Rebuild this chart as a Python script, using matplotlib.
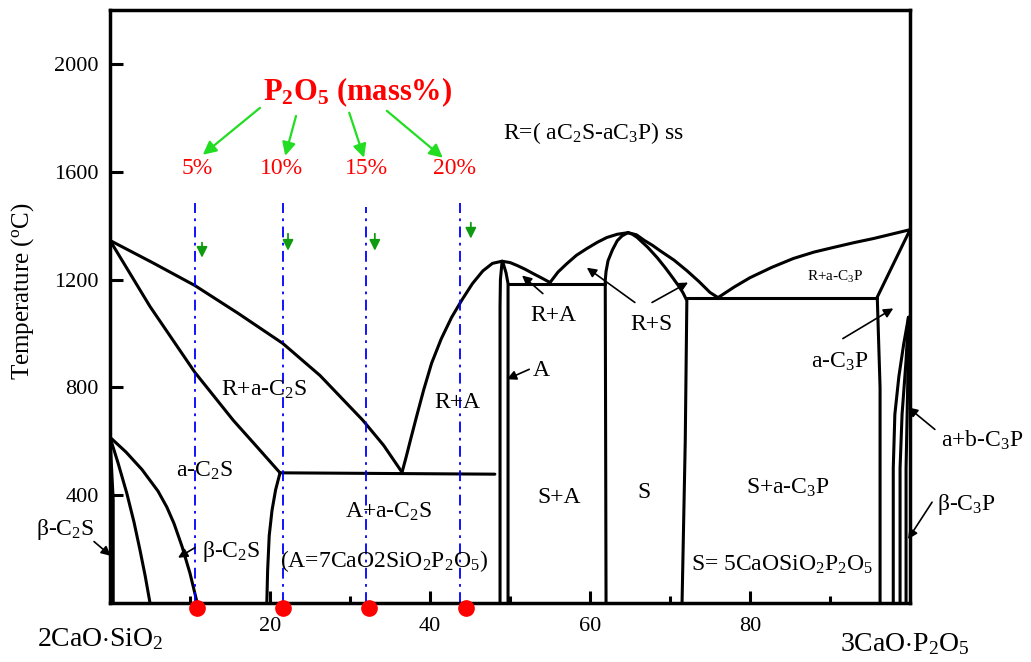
import numpy as np
import matplotlib.pyplot as plt

plt.rcParams['font.family'] = 'Liberation Serif'
plt.rcParams['mathtext.fontset'] = 'custom'
plt.rcParams['mathtext.rm'] = 'Liberation Serif'
plt.rcParams['mathtext.it'] = 'Liberation Serif:italic'
plt.rcParams['mathtext.bf'] = 'Liberation Serif:bold'

# phase boundaries (x = composition, T = temperature in C)
liq_c2s_x = [0, 5.3, 10.6, 16.0, 21.6, 26.25, 31.6, 34.2, 36.5]
liq_c2s_t = [1345, 1263, 1178, 1075, 963, 844, 678, 585, 485]

sol_c2s_x = [0, 5.0, 10.6, 15.4, 18.5, 21.25]
sol_c2s_t = [1345, 1100, 856, 678, 575, 483]

a_c2s_x = [21.25, 20.7, 20.25, 19.9, 19.7, 19.6]
a_c2s_t = [483, 420, 344, 250, 120, 0]

eut1_x = [21.25, 48.1]
eut1_t = [483, 478]

beta_out_x = [0, 2, 4, 6, 7.1, 8, 9, 10, 10.9]
beta_out_t = [615, 560, 495, 415, 356, 295, 210, 110, 0]
beta_mid_x = [0, 1.0, 2.1, 3.0, 3.75, 4.4, 5.0]
beta_mid_t = [615, 520, 407, 300, 196, 100, 0]
beta_in_x = [0, 0.4, 0.4]
beta_in_t = [615, 381, 0]

liq_a_left_x = [36.5, 37.0, 37.6, 38.3, 39.2, 40.2, 41.4, 42.7, 44.0, 45.3,
                46.6, 47.8, 49.0]
liq_a_left_t = [485, 540, 610, 690, 790, 890, 980, 1060, 1125, 1185,
                1232, 1260, 1268]
liq_a_right_x = [49.0, 50.0, 50.9, 51.9, 52.9, 54.0, 55.0]
liq_a_right_t = [1268, 1263, 1252, 1238, 1222, 1205, 1189]

a_left_x = [49.0, 48.8, 48.75, 48.75]
a_left_t = [1265, 1200, 1100, 0]
a_right_x = [49.1, 49.5, 49.75, 49.75]
a_right_t = [1265, 1225, 1185, 0]

ra_box_x = [49.75, 61.9]
ra_box_t = [1185, 1185]

liq_s_left_x = [55.0, 56.0, 57.1, 58.3, 59.6, 60.9, 62.1, 63.4, 64.75]
liq_s_left_t = [1189, 1228, 1259, 1290, 1315, 1338, 1356, 1368, 1374]
liq_s_right_x = [64.75, 65.8, 66.8, 67.8, 68.75, 70.5, 72.1, 73.6, 75.0, 76.0]
liq_s_right_t = [1374, 1366, 1345, 1327, 1307, 1272, 1233, 1193, 1152, 1133]

s_left_x = [64.75, 64.0, 63.4, 62.8, 62.25, 62.0, 61.9, 62.0]
s_left_t = [1374, 1362, 1344, 1310, 1270, 1230, 1196, 0]
s_right_x = [64.75, 65.3, 65.9, 67.2, 68.4, 69.4, 70.4, 71.1, 71.6, 72.1, 71.9, 71.5]
s_right_t = [1374, 1368, 1356, 1320, 1281, 1244, 1204, 1175, 1152, 1122, 600, 0]

eut3_x = [72.1, 95.9]
eut3_t = [1130, 1130]

liq_c3p_x = [76.0, 78.0, 80.0, 82.7, 85.4, 88.0, 90.4, 93.0, 95.4, 100]
liq_c3p_t = [1133, 1172, 1207, 1245, 1278, 1302, 1319, 1337, 1352, 1385]
sol_c3p_x = [100, 95.9, 96.25, 96.25]
sol_c3p_t = [1385, 1135, 800, 0]

c3p_r1_x = [99.8, 99.2, 98.6, 98.1, 97.9, 97.9]
c3p_r1_t = [1060, 960, 840, 700, 500, 0]
c3p_r2_x = [99.8, 99.5, 99.0, 98.75, 98.75]
c3p_r2_t = [1060, 900, 700, 500, 0]
c3p_r3_x = [99.8, 99.7, 99.5, 99.5]
c3p_r3_t = [1060, 800, 500, 0]

boundaries = [
    (liq_c2s_x, liq_c2s_t), (sol_c2s_x, sol_c2s_t), (a_c2s_x, a_c2s_t),
    (eut1_x, eut1_t), (beta_out_x, beta_out_t), (beta_mid_x, beta_mid_t),
    (beta_in_x, beta_in_t), (liq_a_left_x, liq_a_left_t),
    (liq_a_right_x, liq_a_right_t), (a_left_x, a_left_t),
    (a_right_x, a_right_t), (ra_box_x, ra_box_t),
    (liq_s_left_x, liq_s_left_t), (liq_s_right_x, liq_s_right_t),
    (s_left_x, s_left_t), (s_right_x, s_right_t), (eut3_x, eut3_t),
    (liq_c3p_x, liq_c3p_t), (sol_c3p_x, sol_c3p_t),
    (c3p_r1_x, c3p_r1_t), (c3p_r2_x, c3p_r2_t), (c3p_r3_x, c3p_r3_t),
]

# P2O5 compositions marked on the diagram
pct_labels = ['5%', '10%', '15%', '20%']
pct_line_x = [10.6, 21.6, 32.0, 43.75]
pct_line_top = [1485, 1485, 1470, 1485]
pct_dot_x = [10.9, 21.6, 32.4, 44.5]
pct_label_x = [10.9, 21.4, 32.0, 43.0]

x_ticks = [20, 40, 60, 80]
x_minor = [10, 30, 50, 70, 90]
y_ticks = [400, 800, 1200, 1600, 2000]

# region labels: text, x, T (baseline), size
region_labels = [
    ('R+a-C$_2$S', 19.3, 770, 17),
    ('a-C$_2$S', 11.75, 467, 17),
    ('R+A', 43.4, 722, 17),
    ('A+a-C$_2$S', 34.8, 315, 17),
    ('(A=7CaO2SiO$_2$P$_2$O$_5$)', 34.25, 133, 17),
    ('β-C$_2$S', 15.1, 170, 17),
    ('β-C$_2$S', -5.6, 252, 17),
    ('R+A', 55.4, 1048, 17),
    ('R+S', 67.7, 1011, 17),
    ('A', 53.9, 841, 17),
    ('S+A', 56.1, 370, 17),
    ('S', 66.75, 389, 17),
    ('S+a-C$_3$P', 84.75, 407, 17),
    ('S= 5CaOSiO$_2$P$_2$O$_5$', 84.0, 119, 17),
    ('R+a-C$_3$P', 90.6, 1196, 11),
    ('a-C$_3$P', 91.25, 874, 17),
    ('a+b-C$_3$P', 109.0, 581, 17),
    ('β-C$_3$P', 107.1, 344, 17),
]

# black pointer arrows: (from x, from T, to x, to T)
pointer_arrows = [
    (-2.0, 228, 0.1, 175),
    (10.6, 205, 8.5, 168),
    (52.4, 867, 49.6, 830),
    (54.1, 1148, 51.5, 1215),
    (65.6, 1115, 59.6, 1244),
    (67.75, 1115, 72.25, 1189),
    (91.6, 981, 97.9, 1093),
    (103.1, 644, 99.75, 726),
    (102.75, 374, 99.75, 237),
]

# green arrows from the P2O5 title to the percent labels
green_from = [(18.75, 1837), (23.25, 1807), (29.9, 1819), (34.6, 1826)]
green_to = [(11.6, 1663), (21.9, 1659), (31.75, 1652), (41.6, 1652)]
# small green arrows above the dashed lines
small_x = [11.5, 22.25, 33.1, 45.1]
small_top = [1337, 1370, 1370, 1411]
small_bot = [1281, 1307, 1307, 1352]

fig = plt.figure(figsize=(10.31, 6.62), dpi=100)
ax = fig.add_axes([0.1067, 0.0891, 0.776, 0.8958])
ax.set_xlim(0, 100)
ax.set_ylim(0, 2200)

for xs, ts in boundaries:
    ax.plot(xs, ts, color='black', lw=2.2, solid_capstyle='round',
            solid_joinstyle='round')

for x, top in zip(pct_line_x, pct_line_top):
    ax.plot([x, x], [0, top], color='blue', lw=1.3, linestyle=(0, (6, 3, 1.5, 3)))

ax.plot(pct_dot_x, [-18] * 4, 'o', color='red', ms=11, clip_on=False, zorder=5)

for lab, x in zip(pct_labels, pct_label_x):
    ax.text(x, 1611, lab, color='red', fontsize=17, ha='center', va='center')

ax.text(30.9, 1896, r'$\mathbf{P_2O_5}$ (mass%)', color='red', fontsize=22,
        fontweight='bold', ha='center', va='center')

for (x0, t0), (x1, t1) in zip(green_from, green_to):
    ax.annotate('', xy=(x1, t1), xytext=(x0, t0),
                arrowprops=dict(arrowstyle='-|>', color='#22dd22', lw=1.6,
                                mutation_scale=20, shrinkA=0, shrinkB=0))

for x, t0, t1 in zip(small_x, small_top, small_bot):
    ax.annotate('', xy=(x, t1), xytext=(x, t0),
                arrowprops=dict(arrowstyle='-|>', color='#109a10', lw=1.3,
                                mutation_scale=16, shrinkA=0, shrinkB=0))

ax.text(49.1, 1720, 'R=( aC$_2$S-aC$_3$P) ss', fontsize=17, ha='left', va='baseline')

for txt, x, t, sz in region_labels:
    ax.text(x, t, txt, fontsize=sz, ha='center', va='baseline', clip_on=False)

for x0, t0, x1, t1 in pointer_arrows:
    ax.annotate('', xy=(x1, t1), xytext=(x0, t0), annotation_clip=False,
                arrowprops=dict(arrowstyle='-|>', color='black', lw=1.2,
                                mutation_scale=14, shrinkA=0, shrinkB=0))

# axis end-member labels
ax.text(-1.25, -160, r'2CaO$\cdot$SiO$_2$', fontsize=20, ha='center', va='baseline')
ax.text(99.4, -180, r'3CaO$\cdot$P$_2$O$_5$', fontsize=20, ha='center', va='baseline')

ax.set_xticks(x_ticks)
ax.set_xticks(x_minor, minor=True)
ax.set_yticks(y_ticks)
ax.tick_params(axis='both', which='major', direction='in', length=9, width=2.2,
               labelsize=16)
ax.tick_params(axis='x', which='minor', direction='in', length=5, width=2.2)
ax.tick_params(axis='x', which='major', pad=10)
ax.tick_params(axis='y', which='major', pad=8)
for sp in ax.spines.values():
    sp.set_linewidth(2.5)

fig.text(0.022, 0.56, r'Temperature ($^{\rm o}$C)', rotation=90, fontsize=18,
         ha='center', va='center')

fig.savefig('out.png', dpi=100)
